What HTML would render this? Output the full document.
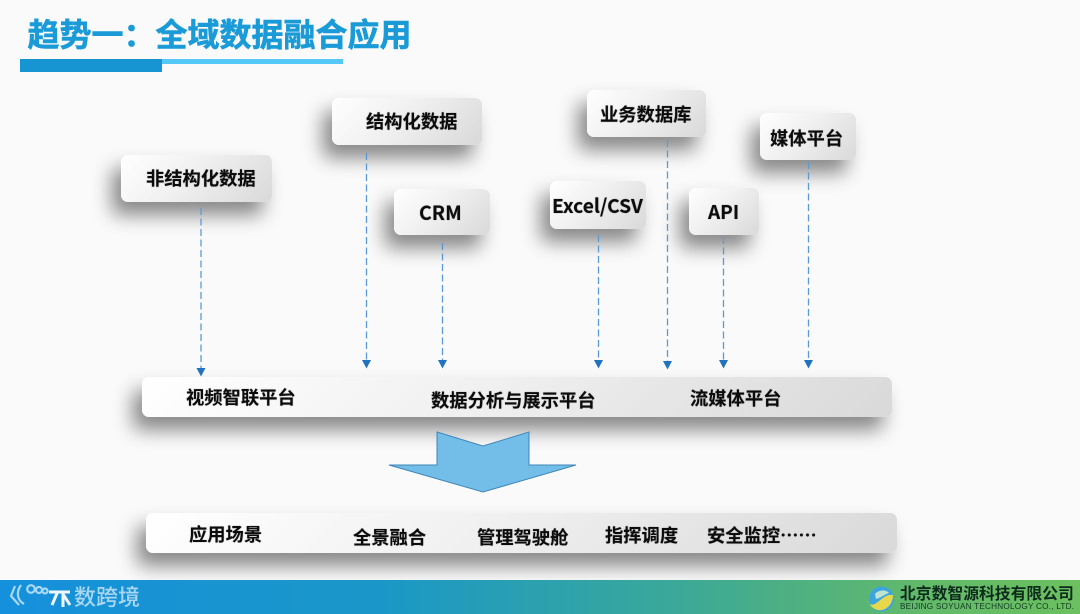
<!DOCTYPE html>
<html lang="zh-CN">
<head>
<meta charset="utf-8">
<style>
html,body{margin:0;padding:0}
body{width:1080px;height:614px;overflow:hidden;background:#fafafa;position:relative;font-family:"Liberation Sans","Noto Sans CJK SC",sans-serif}
.b{position:absolute;border-radius:7px;background:linear-gradient(135deg,#fff 0%,#f0f0f0 45%,#d9d9d9 100%);box-shadow:-9px 13px 19px rgba(0,0,0,.46),0 0 2px #fff}
.t{position:absolute;white-space:nowrap;font-weight:700;font-size:18.300px;line-height:24px;color:#0c0c0c;font-family:"Noto Sans CJK SC","Liberation Sans",sans-serif;text-shadow:0 0 1px rgba(0,0,0,.5)}
.r{position:absolute}
svg{position:absolute;left:0;top:0}
</style>
</head>
<body>
<div class="t" style="left:27.500px;top:10px;font-size:32px;line-height:46px;color:#1a9bd7;-webkit-text-stroke:.6px #1a9bd7;text-shadow:none">趋势一：全域数据融合应用</div>
<div class="r" style="left:162px;top:59px;width:181px;height:5px;background:#55c8f8"></div>
<div class="r" style="left:20px;top:59px;width:142px;height:13px;background:#1795d2"></div>

<div class="b" style="left:121px;top:155px;width:151px;height:47px"></div>
<div class="b" style="left:332px;top:98px;width:150px;height:47px"></div>
<div class="b" style="left:394px;top:189px;width:96px;height:46px"></div>
<div class="b" style="left:550px;top:181px;width:96px;height:48px"></div>
<div class="b" style="left:587px;top:90px;width:119px;height:47px"></div>
<div class="b" style="left:689px;top:188px;width:70px;height:47px"></div>
<div class="b" style="left:760px;top:113px;width:96px;height:47px"></div>
<div class="b" style="left:142px;top:377px;width:750px;height:40px"></div>
<div class="b" style="left:146px;top:513px;width:751px;height:40px"></div>

<svg width="1080" height="614" viewBox="0 0 1080 614">
<g stroke="#5b9bd5" stroke-width="1.300" stroke-dasharray="7 3.500" fill="none">
<path d="M201 208V368"/><path d="M366.500 153V361"/><path d="M442.500 243V361"/><path d="M598.500 235V361"/><path d="M667.500 140V362"/><path d="M723.500 237V361"/><path d="M808.500 162V361"/>
</g>
<g fill="#2273bd">
<path d="M196.500 368h9l-4.500 8.500z"/><path d="M362 360h9l-4.500 8.500z"/><path d="M438 360h9l-4.500 8.500z"/><path d="M594 360h9l-4.500 8.500z"/><path d="M663 361h9l-4.500 8.500z"/><path d="M719 360h9l-4.500 8.500z"/><path d="M804 360h9l-4.500 8.500z"/>
</g>
<path d="M437 432L483 446L529 432V465H576L483 492L389 465H437Z" fill="#73bde9" stroke="#3f86b8" stroke-width="1"/>
</svg>

<div class="t" style="left:146px;top:166px">非结构化数据</div>
<div class="t" style="left:366px;top:109px">结构化数据</div>
<div class="t" style="left:419px;top:200px;font-size:19.500px">CRM</div>
<div class="t" style="left:552px;top:193px;font-size:19.200px">Excel/CSV</div>
<div class="t" style="left:600px;top:102px">业务数据库</div>
<div class="t" style="left:708px;top:200px;font-size:19px">API</div>
<div class="t" style="left:770px;top:126px">媒体平台</div>

<div class="t" style="left:186px;top:385px">视频智联平台</div>
<div class="t" style="left:431px;top:388px">数据分析与展示平台</div>
<div class="t" style="left:690px;top:386px">流媒体平台</div>

<div class="t" style="left:189px;top:522px">应用场景</div>
<div class="t" style="left:353px;top:525px">全景融合</div>
<div class="t" style="left:477px;top:525px">管理驾驶舱</div>
<div class="t" style="left:605px;top:523px">指挥调度</div>
<div class="t" style="left:707px;top:523px">安全监控……</div>

<div class="r" style="left:0;top:580px;width:1080px;height:34px;background:linear-gradient(90deg,#1590dc 0%,#1a97c8 35%,#3aa89a 62%,#62b96a 85%,#6cc05f 100%)"></div>
<svg width="1080" height="614" viewBox="0 0 1080 614">
<g fill="none" stroke="#a9d8f2" stroke-width="2.200">
<path d="M15 586L11 596L19 605"/><path d="M21 585C16 592 17 600 24 604"/>
<circle cx="31" cy="589" r="3.800"/><circle cx="39" cy="590" r="3"/><circle cx="45" cy="591" r="2.500"/>
</g>
<path d="M49 592H70M58 591L52 605M63 592V607M63 594L70 605" fill="none" stroke="#eef8fd" stroke-width="3"/>
<circle cx="881.500" cy="599" r="12.500" fill="#3da5dd"/>
<path d="M870 604C876 608 883 593 893 595C893 605 885 611.500 878 610C874 609 871 607 870 604Z" fill="#e6d84a"/>
<path d="M875 594C879 589 887 590 889 593C885 594 881 598 876 599Z" fill="#bfe3d0"/>
</svg>
<div class="t" style="left:74px;top:582px;font-size:22px;line-height:28px;font-weight:500;color:#a9d6f0;text-shadow:none">数跨境</div>
<div class="t" style="left:900px;top:583px;font-size:15.800px;line-height:20px;color:#0d2b1c;text-shadow:none">北京数智源科技有限公司</div>
<div class="t" style="left:900px;top:601px;font-size:8.200px;line-height:11px;font-weight:400;letter-spacing:.22px;color:#143a26;text-shadow:none;font-family:'Liberation Sans',sans-serif">BEIJING SOYUAN TECHNOLOGY CO., LTD.</div>
</body>
</html>
